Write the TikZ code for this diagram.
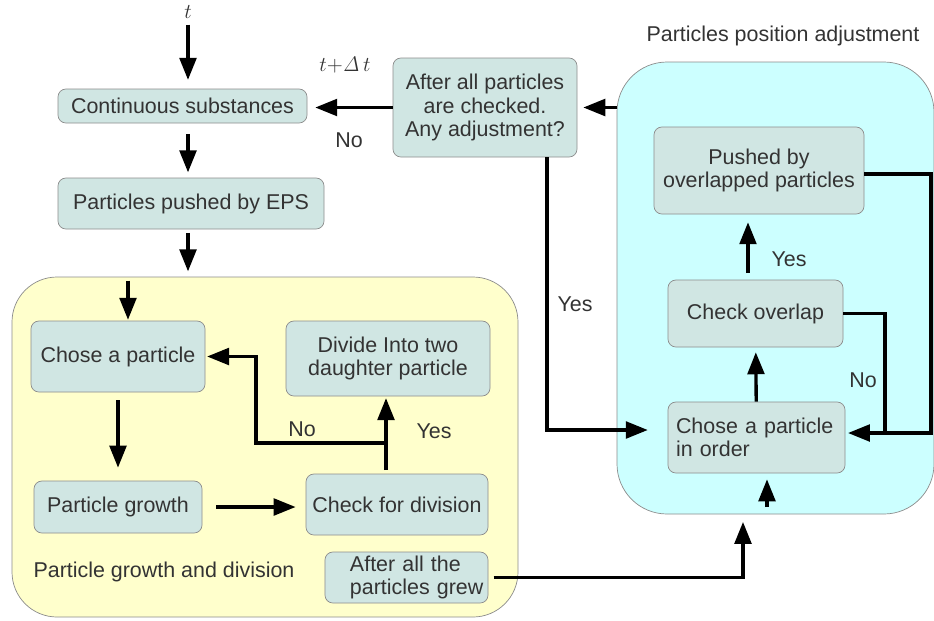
\documentclass[tikz,border=0pt]{standalone}
\usepackage[no-math]{fontspec}
\setmainfont{Liberation Sans}
\usepackage{tikz}
\usetikzlibrary{arrows.meta}

\definecolor{boxfill}{RGB}{208,230,227}
\definecolor{boxline}{RGB}{140,140,140}
\definecolor{growfill}{RGB}{255,255,204}
\definecolor{adjfill}{RGB}{204,255,255}
\definecolor{txt}{RGB}{51,51,51}

\tikzset{
  stepbox/.style = {draw = boxline, fill = boxfill, rounded corners = 4.5pt, align = center, text = txt, inner sep = 2pt, font = \fontsize{12.2}{13.2}\selectfont},
  boxsize/.style 2 args = {minimum width = #1*0.02cm, minimum height = #2*0.02cm},
  region/.style = {draw = boxline, inner sep = 0pt},
  lbl/.style = {text = txt, font = \fontsize{12.2}{13.2}\selectfont},
  conn/.style = {line width = 1.9pt},
  arr/.style = {line width = 1.9pt, -{Triangle[length = 12.5pt, width = 9.5pt]}}
}

\begin{document}
\begin{tikzpicture}[x = 0.02cm, y = -0.02cm]
\useasboundingbox (0,0) rectangle (934,620);

\node[region, fill = growfill, boxsize = {506}{340}, rounded corners = 0.9cm] (growth) at (265,447) {};
\node[region, fill = adjfill, boxsize = {317}{452}, rounded corners = 1cm] (adjust) at (775.5,288) {};

\node[lbl] (tlab) at (188,12) {$t$};
\node[stepbox, boxsize = {249}{34}] (cont) at (182.5,106) {Continuous substances};
\node[stepbox, boxsize = {266}{51}] (eps) at (191,203.5) {Particles pushed by EPS};
\node[stepbox, boxsize = {184}{99}] (after) at (485,107.5) {After all particles\\are checked.\\Any adjustment?};

\node[stepbox, boxsize = {174}{71}] (chose) at (118,356.5) {Chose a particle};
\node[stepbox, boxsize = {168}{52}] (grow) at (118,507) {Particle growth};
\node[stepbox, boxsize = {182}{61}] (check) at (397,504.5) {Check for division};
\node[stepbox, boxsize = {204}{75}] (divide) at (388,358.5) {Divide Into two\\daughter particle};
\node[stepbox, boxsize = {161}{51}, align = left, text width = 156*0.02cm] (grew) at (406.5,577.5) {\hspace*{0.43cm}After all the\\\hspace*{0.43cm}particles grew};

\node[stepbox, boxsize = {210}{87}] (pushed) at (759,170.5) {Pushed by\\overlapped particles};
\node[stepbox, boxsize = {175}{67}] (overlap) at (755.5,313.5) {Check overlap};
\node[stepbox, boxsize = {177}{71}, align = left, text width = 161*0.02cm] (inorder) at (756.5,437.5) {Chose a particle\\in order};

\node[lbl] (growtitle) at (164,572) {Particle growth and division};
\node[lbl] (adjtitle) at (783,36) {Particles position adjustment};

\coordinate (gin) at (128,277);
\coordinate (split) at (386,443);
\coordinate (nobend) at (256,443);
\coordinate (upin) at (743,514);
\coordinate (adjin) at (767,507);
\coordinate (yesup) at (748,273);
\coordinate (nojoin) at (885,433);
\coordinate (backr) at (931,433);
\coordinate (yesdown) at (547,430);

\draw[arr, shorten >= 5pt] (tlab) -- (tlab |- cont.north);
\draw[arr, shorten <= 6pt, shorten >= 3pt] (tlab |- cont.south) -- (tlab |- eps.north);
\draw[arr, shorten <= 2pt, shorten >= 3pt] (tlab |- eps.south) -- (tlab |- growth.north);
\draw[arr, shorten <= 2pt, shorten >= 0.5pt] (gin) -- (gin |- chose.north);
\draw[arr, shorten <= 4.5pt, shorten >= 7.4pt] (chose) -- (grow);
\draw[arr, shorten <= 8pt, shorten >= 5.7pt] (grow.east) -- (grow.east -| check.west);
\draw[arr, shorten <= 2pt, shorten >= 1pt] (check.north -| split) -- (divide.south -| split);
\draw[arr, shorten >= 1pt] (split) -- (nobend) |- (chose.east);
\node[lbl] (nodiv) at (302,429) {No};
\node[lbl] (yesdiv) at (434,431) {Yes};

\draw[arr, shorten <= 3pt, shorten >= 4.5pt] (grew.east) -| (upin);
\draw[arr, shorten >= 3.4pt] (adjin) -- (adjin |- inorder.south);
\draw[arr, shorten >= 2.8pt] (inorder) -- (overlap);
\draw[arr, shorten >= 4.5pt] (yesup) -- (yesup |- pushed.south);
\node[lbl] (yesover) at (789,259) {Yes};
\draw[conn] (overlap.east) -| (nojoin);
\node[lbl] (noover) at (863,380) {No};
\draw[arr, shorten >= 1.5pt] ([yshift = -0.07cm]pushed.east) -| (backr) -- (backr -| inorder.east);

\draw[arr, shorten >= 3.4pt] (adjust.west |- after) -- (after);
\draw[arr, shorten >= 4.5pt] (after.west) -- (after.west -| cont.east);
\node[lbl] (noadj) at (349,140) {No};
\node[lbl] (tnext) at (345,65) {$t{+}\mathit{\Delta}\,t$};
\draw[arr, shorten >= 11.3pt] (after.south -| yesdown) -- (yesdown) -- (yesdown -| inorder.west);
\node[lbl] (yesadj) at (575,304) {Yes};
\end{tikzpicture}
\end{document}
